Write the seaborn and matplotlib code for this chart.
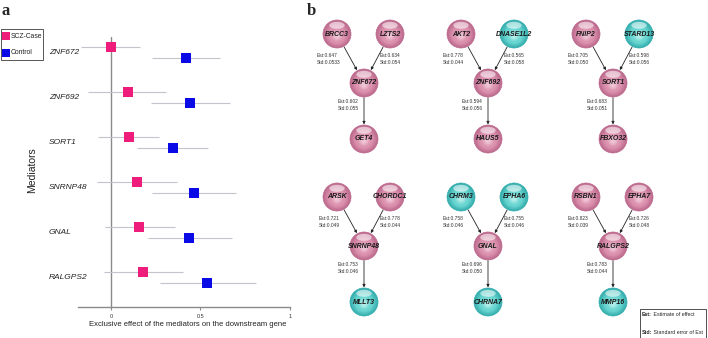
import numpy as np
import pandas as pd
import matplotlib
matplotlib.use("Agg")
import matplotlib.pyplot as plt
import matplotlib.transforms as mtransforms
from matplotlib.patches import Circle, Ellipse, Rectangle
import seaborn as sns

# ============================================================
# DATEN PANEL a
# ============================================================
genes = ['ZNF672', 'ZNF692', 'SORT1', 'SNRNP48', 'GNAL', 'RALGPS2']
case_est = [0.00, 0.093, 0.10, 0.143, 0.158, 0.18]
case_lo = [-0.17, -0.127, -0.07, -0.08, -0.034, -0.037]
case_hi = [0.16, 0.307, 0.27, 0.367, 0.358, 0.404]
ctrl_est = [0.42, 0.441, 0.345, 0.466, 0.438, 0.538]
ctrl_lo = [0.23, 0.222, 0.143, 0.229, 0.209, 0.274]
ctrl_hi = [0.61, 0.665, 0.544, 0.698, 0.674, 0.81]
groups = ['SCZ-Case', 'Control']

# ============================================================
# DATEN PANEL b (Netzwerke)
# ============================================================
up_left = ['BRCC3', 'AKT2', 'FNIP2', 'ARSK', 'CHRM3', 'RSBN1']
up_right = ['LZTS2', 'DNASE1L2', 'STARD13', 'CHORDC1', 'EPHA6', 'EPHA7']
down = ['GET4', 'HAUS5', 'FBXO32', 'MLLT3', 'CHRNA7', 'MMP16']
up_left_kind = ['P', 'P', 'P', 'P', 'C', 'P']
up_right_kind = ['P', 'C', 'C', 'P', 'C', 'P']
down_kind = ['P', 'P', 'P', 'C', 'C', 'C']
est_left = ['0.647', '0.778', '0.705', '0.721', '0.758', '0.823']
std_left = ['0.0533', '0.044', '0.050', '0.049', '0.046', '0.039']
est_right = ['0.634', '0.565', '0.598', '0.778', '0.755', '0.726']
std_right = ['0.054', '0.058', '0.056', '0.044', '0.046', '0.048']
est_down = ['0.602', '0.594', '0.683', '0.753', '0.696', '0.783']
std_down = ['0.055', '0.056', '0.051', '0.046', '0.050', '0.044']

# ------------------------------------------------------------
# Tabelle fuer seaborn
# ------------------------------------------------------------
off = 0.122
df = pd.DataFrame({
    'gene': genes * 2,
    'group': [groups[0]] * 6 + [groups[1]] * 6,
    'est': case_est + ctrl_est,
    'lo': case_lo + ctrl_lo,
    'hi': case_hi + ctrl_hi,
    'ypos': [i - off for i in range(6)] + [i + off for i in range(6)],
})

sns.set_style("white")
plt.rcParams['font.family'] = ['Liberation Sans', 'DejaVu Sans']

W, H = 708, 338
fig = plt.figure(figsize=(W / 100, H / 100), dpi=100)

palette = {'SCZ-Case': '#EE1C7A', 'Control': '#0A0AE6'}

# ============================================================
# PANEL a
# ============================================================
ax = fig.add_axes([78 / W, 1 - 307 / H, (290 - 78) / W, (307 - 37) / H])
ax.hlines(df['ypos'], df['lo'], df['hi'], color='#c4c4cc', lw=0.8, zorder=1)
ax.axvline(0, color='#8a8a8a', lw=1.0, zorder=0)
sns.scatterplot(data=df, x='est', y='ypos', hue='group', palette=palette,
                marker='s', s=52, linewidth=0, ax=ax, legend=False, zorder=3)
ax.set_xlim(-0.184, 1.0)
ax.set_ylim(5.656, -0.344)
ax.set_yticks([])
ax.set_xticks([0, 0.5, 1])
ax.set_xticklabels(['0', '0.5', '1'])
ax.tick_params(axis='x', labelsize=4, length=2, color='#8a8a8a', pad=3,
               labelcolor='#333333', bottom=True)
for s in ['top', 'right', 'left']:
    ax.spines[s].set_visible(False)
ax.spines['bottom'].set_color('#8a8a8a')
ax.spines['bottom'].set_linewidth(1.0)
ax.set_xlabel('')
ax.set_ylabel('')

trans = mtransforms.blended_transform_factory(fig.transFigure, ax.transData)
for i, g in enumerate(genes):
    ax.text(49 / W, i, g, transform=trans, ha='left', va='center',
            fontsize=6, style='italic', color='#222222')

fig.text(32 / W, 1 - 170 / H, 'Mediators', rotation=90, ha='center',
         va='center', fontsize=7.5, color='#222222')
fig.text(188 / W, 1 - 325 / H,
         'Exclusive effect of the mediators on the downstream gene',
         ha='center', va='center', fontsize=5.5, color='#222222')

fig.text(2 / W, 1 - 3 / H, 'a', fontsize=12, fontweight='bold',
         family='Liberation Serif', va='top', ha='left')
fig.text(307 / W, 1 - 3 / H, 'b', fontsize=12, fontweight='bold',
         family='Liberation Serif', va='top', ha='left')

# ============================================================
# Overlay-Achse in Pixelkoordinaten (Legende a + Panel b)
# ============================================================
axb = fig.add_axes([0, 0, 1, 1])
axb.set_xlim(0, W)
axb.set_ylim(H, 0)
axb.axis('off')
axb.patch.set_alpha(0)

# Legende Panel a
axb.add_patch(Rectangle((0.6, 29), 42.5, 31, fill=False, ec='#555555', lw=0.7))
for k, g in enumerate(groups):
    yk = 36 + 17 * k
    axb.scatter([6], [yk], marker='s', s=40, color=palette[g], lw=0)
    axb.text(10.5, yk, g, fontsize=4.9, va='center', ha='left', color='#222222')

col_x = [364, 488, 613]
row_y = [83, 246]
R = 14

shades = {
    'P': ('#bd6a8e', '#dc92ae', '#f6d8e3'),
    'C': ('#35aeae', '#6ad6d2', '#d2f7f4'),
}


def mix(c1, c2, t):
    a = np.array(matplotlib.colors.to_rgb(c1))
    b = np.array(matplotlib.colors.to_rgb(c2))
    return tuple(a + (b - a) * t)


def draw_node(x, y, name, kind):
    dark, mid, light = shades[kind]
    n = 14
    for k in range(n):
        t = k / (n - 1)
        r = R * (1 - 0.85 * t)
        col = mix(dark, mid, min(1, t * 2.2)) if t < 0.6 else mix(mid, light, (t - 0.6) / 0.4 * 0.7)
        axb.add_patch(Circle((x, y + 2.0 * t), r, color=col, lw=0, zorder=2))
    axb.add_patch(Ellipse((x, y - 0.62 * R), 1.1 * R, 0.5 * R,
                          color='white', alpha=0.55, lw=0, zorder=3))
    axb.add_patch(Circle((x, y), R, fill=False, ec=dark, lw=0.5, zorder=3))
    axb.text(x, y, name, ha='center', va='center', fontsize=5,
             fontweight='bold', style='italic', color='#1a1a1a', zorder=4)


def arrow(x0, y0, x1, y1, color='#222222'):
    axb.annotate('', xy=(x1, y1), xytext=(x0, y0),
                 arrowprops=dict(arrowstyle='-|>', color=color, lw=0.6,
                                 mutation_scale=4, shrinkA=10.5, shrinkB=10.5),
                 zorder=1)


for i, med in enumerate(genes):
    mx = col_x[i % 3]
    my = row_y[i // 3]
    lx, ly = mx - 27, my - 49
    rx, ry = mx + 26, my - 49
    dx, dy = mx, my + 56
    arrow(lx, ly, mx, my)
    arrow(rx, ry, mx, my)
    arrow(mx, my, dx, dy)
    draw_node(lx, ly, up_left[i], up_left_kind[i])
    draw_node(rx, ry, up_right[i], up_right_kind[i])
    draw_node(mx, my, med, 'P')
    draw_node(dx, dy, down[i], down_kind[i])
    axb.text(mx - 24, my - 24, f'Est:{est_left[i]}\nStd:{std_left[i]}',
             ha='right', va='center', fontsize=3.5, color='#333333',
             linespacing=1.3, multialignment='left')
    axb.text(mx + 16, my - 24, f'Est:{est_right[i]}\nStd:{std_right[i]}',
             ha='left', va='center', fontsize=3.5, color='#333333',
             linespacing=1.3, multialignment='left')
    axb.text(mx - 5, my + 22, f'Est:{est_down[i]}\nStd:{std_down[i]}',
             ha='right', va='center', fontsize=3.5, color='#333333',
             linespacing=1.3, multialignment='left')

# Legende unten rechts
axb.add_patch(Rectangle((640, 309), 66, 28.5, fill=False, ec='#333333', lw=0.6))
t1 = axb.text(642, 315, 'Est:', fontsize=3.8, fontweight='bold', va='center', ha='left')
axb.annotate(' Estimate of effect', xy=(1, 0.5), xycoords=t1, fontsize=3.8,
             va='center', ha='left')
t2 = axb.text(642, 332, 'Std:', fontsize=3.8, fontweight='bold', va='center', ha='left')
axb.annotate(' Standard error of Est', xy=(1, 0.5), xycoords=t2, fontsize=3.8,
             va='center', ha='left')

plt.savefig("out.png", dpi=100)
